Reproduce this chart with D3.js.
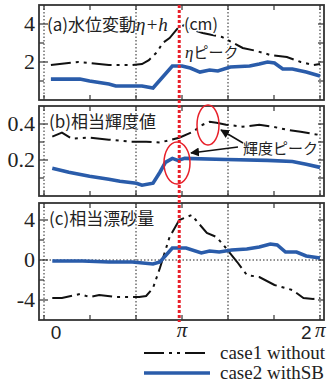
<!DOCTYPE html>
<head>
  <meta charset="utf-8">
  <script src="https://d3js.org/d3.v7.min.js"></script>
  <style>
    body { margin: 0; background: #fff; }
    .frame { fill: none; stroke: #333; stroke-width: 1.8px; }
    .grid { stroke: #222; stroke-width: 1px; stroke-dasharray: 1.5,2; }
    .tick { stroke: #333; stroke-width: 1.2px; }
    .jp { font-family: "Noto Sans CJK JP", "Noto Sans", sans-serif; fill: #222; }
    .num { font-family: "Liberation Serif", serif; fill: #222; }
  </style>
</head>

<body>
  <script>
    // x in units of pi
    var xTickVals = [0, 1/3, 2/3, 1, 4/3, 5/3, 2];
    var xGridVals = [0, 2/3, 4/3, 2];
    var redX = 0.98;

    // (a) water level eta+h (cm)
    var a1 = [[0.05,1.84],[0.25,2.0],[0.33,1.95],[0.47,1.84],[0.64,1.84],[0.71,1.89],[0.76,2.1],[0.82,2.53],
              [0.86,3.0],[0.91,3.26],[0.97,3.79],[1.02,3.95],[1.08,3.68],[1.15,3.53],[1.22,3.42],[1.29,3.32],
              [1.44,2.74],[1.54,2.58],[1.64,2.37],[1.76,2.26],[1.86,2.0],[1.95,1.84],[2.0,1.89]];
    var a2 = [[0.05,1.1],[0.26,1.1],[0.33,1.0],[0.47,0.84],[0.52,0.74],[0.71,0.74],[0.79,0.63],[0.93,1.79],
              [1.0,1.79],[1.06,1.68],[1.13,1.47],[1.2,1.58],[1.26,1.53],[1.35,1.74],[1.49,1.79],[1.56,1.89],
              [1.62,2.0],[1.67,1.95],[1.73,1.63],[1.8,1.63],[1.9,1.47],[2.0,1.26]];
    // (b) brightness
    var b1 = [[0.06,0.33],[0.13,0.352],[0.2,0.319],[0.33,0.324],[0.47,0.313],[0.62,0.302],[0.74,0.302],[0.84,0.297],
              [0.98,0.324],[1.08,0.357],[1.15,0.396],[1.2,0.412],[1.25,0.407],[1.32,0.396],[1.44,0.385],[1.56,0.396],
              [1.66,0.385],[1.76,0.368],[1.86,0.357],[1.98,0.341],[2.0,0.335]];
    var b2 = [[0.06,0.154],[0.18,0.132],[0.33,0.11],[0.47,0.093],[0.55,0.082],[0.67,0.071],[0.71,0.06],[0.79,0.071],
              [0.84,0.132],[0.88,0.187],[0.93,0.209],[0.97,0.198],[1.02,0.209],[1.32,0.203],[1.62,0.198],[1.8,0.192],
              [1.9,0.176],[2.0,0.159]];
    // (c) sediment transport
    var c1 = [[0.06,-3.8],[0.13,-3.8],[0.26,-3.4],[0.33,-3.7],[0.4,-3.5],[0.52,-3.7],[0.69,-3.7],[0.74,-3.6],
              [0.79,-2.8],[0.84,-0.8],[0.91,2.3],[0.98,4.0],[1.07,4.5],[1.1,4.0],[1.18,2.7],[1.25,2.3],[1.3,1.5],
              [1.4,-0.2],[1.47,-1.5],[1.56,-1.7],[1.67,-2.5],[1.8,-3.0],[1.88,-3.8],[1.95,-3.9],[2.0,-3.8]];
    var c2 = [[0.06,-0.1],[0.28,-0.1],[0.47,-0.2],[0.64,-0.2],[0.79,-0.4],[0.84,-0.2],[0.93,1.2],[1.03,1.2],
              [1.14,0.7],[1.2,0.9],[1.27,0.8],[1.36,1.0],[1.47,1.1],[1.56,1.3],[1.64,1.6],[1.69,1.5],[1.75,0.8],
              [1.83,0.8],[1.9,0.4],[2.0,0.2]];

    var width = 329, height = 382;
    var left = 39, right = 324;
    var blue = "#2a5caa";
    var dashDot = "20,5,3,5,3,5";

    var svg = d3.select("body").append("svg")
        .attr("width", width)
        .attr("height", height);

    var x = d3.scaleLinear().domain([0, 2]).range([44, 320]);

    var panels = [
      { top: 5, bottom: 100, domain: [0, 5], ticks: [1, 2, 3, 4], labels: [2, 4], fmt: d => d, s1: a1, s2: a2, zero: false },
      { top: 106, bottom: 196, domain: [0, 0.5], ticks: [0.1, 0.2, 0.3, 0.4], labels: [0.2, 0.4], fmt: d => d.toFixed(1), s1: b1, s2: b2, zero: false },
      { top: 203, bottom: 320, domain: [-6, 5.7], ticks: [-4, -2, 0, 2, 4], labels: [-4, 0, 4], fmt: d => d, s1: c1, s2: c2, zero: true }
    ];

    panels.forEach(function (p) {
      var y = d3.scaleLinear().domain(p.domain).range([p.bottom, p.top]);
      var g = svg.append("g");

      // vertical dotted grid
      g.selectAll(".vg").data(xGridVals).enter().append("line")
        .attr("class", "grid")
        .attr("x1", d => x(d)).attr("x2", d => x(d))
        .attr("y1", p.top).attr("y2", p.bottom);
      if (p.zero) {
        g.append("line").attr("class", "grid")
          .attr("x1", left).attr("x2", right)
          .attr("y1", y(0)).attr("y2", y(0));
      }
      // top/bottom ticks
      xTickVals.forEach(function (t) {
        g.append("line").attr("class", "tick")
          .attr("x1", x(t)).attr("x2", x(t)).attr("y1", p.top).attr("y2", p.top + 5);
        g.append("line").attr("class", "tick")
          .attr("x1", x(t)).attr("x2", x(t)).attr("y1", p.bottom).attr("y2", p.bottom - 5);
      });
      // left/right ticks
      p.ticks.forEach(function (t) {
        var major = p.labels.indexOf(t) >= 0;
        g.append("line").attr("class", "tick")
          .attr("x1", left).attr("x2", left + (major ? 9 : 5)).attr("y1", y(t)).attr("y2", y(t));
        g.append("line").attr("class", "tick")
          .attr("x1", right).attr("x2", right - 6).attr("y1", y(t)).attr("y2", y(t));
      });
      // y labels
      g.selectAll(".yl").data(p.labels).enter().append("text")
        .attr("class", "num")
        .attr("x", 35).attr("y", d => y(d) + 7)
        .attr("text-anchor", "end")
        .style("font-size", "22px")
        .text(p.fmt);

      var line = d3.line().x(d => x(d[0])).y(d => y(d[1]));
      g.append("path").datum(p.s1)
        .attr("d", line).attr("fill", "none")
        .attr("stroke", "#111").attr("stroke-width", 2)
        .attr("stroke-dasharray", dashDot);
      g.append("path").datum(p.s2)
        .attr("d", line).attr("fill", "none")
        .attr("stroke", blue).attr("stroke-width", 3.6);

      g.append("rect").attr("class", "frame")
        .attr("x", left).attr("y", p.top)
        .attr("width", right - left).attr("height", p.bottom - p.top);
    });

    // red dotted line at the peak
    svg.append("line")
      .attr("x1", x(redX)).attr("x2", x(redX))
      .attr("y1", 5).attr("y2", 322)
      .attr("stroke", "#e8202a").attr("stroke-width", 3)
      .attr("stroke-dasharray", "3,2");

    // panel titles
    var ta = svg.append("text").attr("class", "jp").attr("x", 47).attr("y", 31).style("font-size", "17px");
    ta.append("tspan").text("(a)水位変動");
    ta.append("tspan").attr("font-family", "Liberation Serif").attr("font-style", "italic").style("font-size", "19px").text("η+h");
    svg.append("text").attr("class", "jp").attr("x", 184).attr("y", 30).style("font-size", "16px")
      .attr("stroke", "#fff").attr("stroke-width", 3).attr("paint-order", "stroke").text("(cm)");
    svg.append("text").attr("class", "jp").attr("x", 49).attr("y", 128).style("font-size", "17px").text("(b)相当輝度値");
    svg.append("text").attr("class", "jp").attr("x", 49).attr("y", 225).style("font-size", "17px").text("(c)相当漂砂量");

    var tp = svg.append("text").attr("class", "jp").attr("x", 185).attr("y", 58).style("font-size", "15px")
      .attr("stroke", "#fff").attr("stroke-width", 3).attr("paint-order", "stroke");
    tp.append("tspan").attr("font-family", "Liberation Serif").attr("font-style", "italic").style("font-size", "17px").text("η");
    tp.append("tspan").text("ピーク");

    // brightness peak markers
    svg.append("ellipse").attr("cx", 208).attr("cy", 125).attr("rx", 11).attr("ry", 20)
      .attr("fill", "none").attr("stroke", "#e8202a").attr("stroke-width", 1.5);
    svg.append("ellipse").attr("cx", 177).attr("cy", 163).attr("rx", 13).attr("ry", 21)
      .attr("fill", "none").attr("stroke", "#e8202a").attr("stroke-width", 1.5);

    svg.append("defs").append("marker")
      .attr("id", "ah").attr("viewBox", "0 0 10 10").attr("refX", 9).attr("refY", 5)
      .attr("markerWidth", 9).attr("markerHeight", 9).attr("orient", "auto")
      .attr("markerUnits", "userSpaceOnUse")
      .append("path").attr("d", "M0,0L10,5L0,10Z").attr("fill", "#111");
    svg.append("line").attr("x1", 243).attr("y1", 143).attr("x2", 221).attr("y2", 130)
      .attr("stroke", "#111").attr("stroke-width", 1.5).attr("marker-end", "url(#ah)");
    svg.append("line").attr("x1", 238).attr("y1", 147).attr("x2", 191).attr("y2", 153)
      .attr("stroke", "#111").attr("stroke-width", 1.5).attr("marker-end", "url(#ah)");
    svg.append("text").attr("class", "jp").attr("x", 243).attr("y", 154).style("font-size", "15px").text("輝度ピーク");

    // x labels
    svg.append("text").attr("x", 56).attr("y", 339).attr("text-anchor", "middle")
      .attr("font-family", "Liberation Sans").style("font-size", "19px").attr("fill", "#222").text("0");
    svg.append("text").attr("x", x(1)).attr("y", 337).attr("text-anchor", "middle")
      .attr("font-family", "Liberation Serif").attr("font-style", "italic").style("font-size", "21px").attr("fill", "#222").text("π");
    svg.append("text").attr("x", 301).attr("y", 339)
      .attr("font-family", "Liberation Sans").style("font-size", "19px").attr("fill", "#222").text("2");
    svg.append("text").attr("x", 315).attr("y", 337)
      .attr("font-family", "Liberation Serif").attr("font-style", "italic").style("font-size", "21px").attr("fill", "#222").text("π");

    // legend
    var legend = [["case1 without", "#111", dashDot, 2], ["case2 withSB", blue, null, 3.6]];
    legend.forEach(function (l, i) {
      var ly = 353 + i * 20;
      svg.append("line").attr("x1", 144).attr("x2", 210).attr("y1", ly).attr("y2", ly)
        .attr("stroke", l[1]).attr("stroke-width", l[3]).attr("stroke-dasharray", l[2]);
      svg.append("text").attr("class", "num").attr("x", 220).attr("y", ly + 6)
        .style("font-size", "19px").text(l[0]);
    });
  </script>
</body>
